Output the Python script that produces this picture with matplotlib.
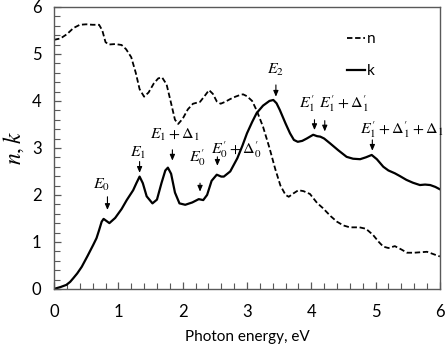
import matplotlib
matplotlib.use("Agg")
import matplotlib.pyplot as plt
from matplotlib.ticker import MultipleLocator

plt.rcParams['font.family'] = ['Lato', 'DejaVu Sans']
plt.rcParams['mathtext.fontset'] = 'stix'

# refractive index n
n_x = [0.0, 0.1, 0.2, 0.3, 0.4, 0.5, 0.6, 0.7, 0.75, 0.8, 0.85, 0.95, 1.05, 1.12, 1.2, 1.27,
       1.33, 1.4, 1.47, 1.55, 1.62, 1.68, 1.75, 1.82, 1.88, 1.93, 2.0, 2.08, 2.16, 2.27, 2.35,
       2.41, 2.47, 2.53, 2.59, 2.66, 2.74, 2.82, 2.9, 2.94, 3.0, 3.08, 3.15, 3.25, 3.35, 3.44,
       3.52, 3.6, 3.65, 3.72, 3.8, 3.88, 3.98, 4.09, 4.18, 4.3, 4.4, 4.5, 4.6, 4.75, 4.85,
       4.96, 5.05, 5.12, 5.2, 5.3, 5.4, 5.49, 5.6, 5.7, 5.8, 5.9, 6.0]
n_y = [5.30, 5.33, 5.42, 5.55, 5.62, 5.63, 5.62, 5.62, 5.5, 5.25, 5.2, 5.21, 5.19, 5.1, 4.93, 4.6,
       4.25, 4.09, 4.18, 4.37, 4.48, 4.5, 4.35, 3.95, 3.6, 3.51, 3.62, 3.82, 3.94, 3.98, 4.12,
       4.23, 4.15, 3.99, 3.94, 3.98, 4.04, 4.09, 4.13, 4.14, 4.10, 4.0, 3.8, 3.45, 3.0, 2.55,
       2.2, 2.0, 1.96, 2.03, 2.1, 2.08, 2.02, 1.83, 1.72, 1.55, 1.43, 1.35, 1.31, 1.31, 1.28,
       1.15, 1.0, 0.9, 0.87, 0.91, 0.84, 0.77, 0.77, 0.78, 0.79, 0.74, 0.69]

# extinction coefficient k
k_x = [0.0, 0.1, 0.19, 0.25, 0.3, 0.36, 0.43, 0.52, 0.61, 0.66, 0.7, 0.74, 0.77, 0.82, 0.86,
       0.95, 1.05, 1.13, 1.23, 1.28, 1.33, 1.38, 1.44, 1.53, 1.6, 1.67, 1.73, 1.77, 1.82, 1.88,
       1.95, 2.04, 2.15, 2.25, 2.32, 2.38, 2.45, 2.53, 2.6, 2.64, 2.74, 2.85, 2.93, 3.0, 3.08,
       3.15, 3.25, 3.35, 3.41, 3.46, 3.51, 3.6, 3.67, 3.73, 3.79, 3.86, 3.93, 4.03, 4.09, 4.14,
       4.2, 4.29, 4.42, 4.55, 4.65, 4.76, 4.85, 4.94, 5.02, 5.12, 5.2, 5.3, 5.38, 5.48, 5.58,
       5.69, 5.77, 5.85, 5.93, 6.0]
k_y = [0.0, 0.04, 0.085, 0.15, 0.23, 0.33, 0.47, 0.7, 0.94, 1.08, 1.25, 1.43, 1.49, 1.44, 1.40,
       1.51, 1.7, 1.89, 2.1, 2.25, 2.39, 2.25, 1.97, 1.82, 1.9, 2.25, 2.52, 2.58, 2.45, 2.05,
       1.82, 1.79, 1.84, 1.91, 1.89, 2.0, 2.3, 2.43, 2.39, 2.39, 2.5, 2.78, 3.05, 3.31, 3.55,
       3.74, 3.9, 4.0, 4.02, 3.95, 3.81, 3.52, 3.31, 3.17, 3.13, 3.15, 3.2, 3.28, 3.25, 3.24,
       3.2, 3.1, 2.95, 2.81, 2.77, 2.76, 2.8, 2.85, 2.76, 2.6, 2.52, 2.46, 2.4, 2.32, 2.26,
       2.21, 2.22, 2.21, 2.17, 2.12]

# transition annotations
ann_labels = [r"$E_0$", r"$E_1$", r"$E_1+\Delta_1$", r"$E_0'$", r"$E_0'+\Delta_0'$",
              r"$E_2$", r"$E_1'$", r"$E_1'+\Delta_1'$", r"$E_1'+\Delta_1'+\Delta_1$"]
ann_text_x = [0.73, 1.30, 1.88, 2.23, 2.84, 3.45, 3.93, 4.51, 5.41]
ann_text_y = [2.21, 2.90, 3.28, 2.80, 2.96, 4.65, 3.95, 3.95, 3.40]
arr_x = [0.83, 1.33, 1.84, 2.27, 2.54, 3.45, 4.05, 4.21, 4.95]
arr_top = [1.96, 2.71, 2.96, 2.25, 2.81, 4.34, 3.60, 3.58, 3.17]
arr_bot = [1.68, 2.47, 2.73, 2.07, 2.62, 4.09, 3.38, 3.35, 2.94]

fig = plt.figure(figsize=(4.47, 3.46), dpi=100)
ax = fig.add_axes([0.121, 0.165, 0.863, 0.815])

ax.plot(n_x, n_y, color='black', lw=1.3, ls=(0, (3, 1.5)), label='n')
ax.plot(k_x, k_y, color='black', lw=1.6, ls='-', label='k')

for lab, tx, ty, ax_, at, ab in zip(ann_labels, ann_text_x, ann_text_y, arr_x, arr_top, arr_bot):
    ax.text(tx, ty, lab, ha='center', va='center', fontsize=11.5)
    ax.annotate('', xy=(ax_, ab), xytext=(ax_, at),
                arrowprops=dict(arrowstyle='-|>,head_length=0.35,head_width=0.15',
                                color='black', lw=0.8, shrinkA=0, shrinkB=0))

ax.set_xlim(0, 6)
ax.set_ylim(0, 6)
ax.xaxis.set_major_locator(MultipleLocator(1))
ax.yaxis.set_major_locator(MultipleLocator(1))
ax.xaxis.set_minor_locator(MultipleLocator(0.2))
ax.yaxis.set_minor_locator(MultipleLocator(0.2))
ax.tick_params(which='both', direction='in', color='#595959', labelsize=12)
ax.tick_params(axis='x', which='both', pad=11)
ax.tick_params(axis='y', which='both', pad=9)
ax.tick_params(which='major', length=5, width=0.9)
ax.tick_params(which='minor', length=4, width=0.8)
for s in ax.spines.values():
    s.set_color('#595959')
    s.set_linewidth(1.0)

ax.set_xlabel('Photon energy, eV', fontsize=11, labelpad=7)
ax.set_ylabel(r'$n, k$', fontsize=17, labelpad=4)

leg = ax.legend(loc='upper right', bbox_to_anchor=(0.87, 0.96), frameon=False,
                fontsize=11, handlelength=1.2, handletextpad=0.15, labelspacing=1.2)

fig.savefig('out.png', dpi=100)
